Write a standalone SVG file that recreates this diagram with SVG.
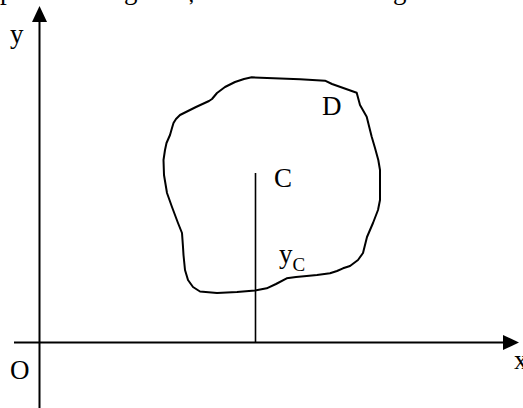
<svg xmlns="http://www.w3.org/2000/svg" width="523" height="408" viewBox="0 0 523 408">
<style>
.t{font-family:"Liberation Serif","Times New Roman",serif;fill:#000;font-size:27px}
.s{font-family:"Liberation Serif","Times New Roman",serif;fill:#000;font-size:19px}
.ax{stroke:#000;stroke-width:2;fill:none}
.ln{stroke:#000;stroke-width:1.6;fill:none}
.bl{stroke:#000;stroke-width:2;fill:none;stroke-linejoin:round;stroke-linecap:round}
</style>
<rect width="523" height="408" fill="#fff"/>
<g id="topline">
<text class="t" x="0" y="-1.5">p</text>
<text class="t" x="124" y="-1.5">g</text>
<text class="t" x="186" y="-1.5">ș</text>
<text class="t" x="393" y="-1.5">g</text>
</g>
<g id="connectors">
<line class="ax" x1="39.5" y1="20" x2="39.5" y2="408"/>
<polygon points="39.5,6 32,22 47,22" fill="#000"/>
<line class="ax" x1="14" y1="342.5" x2="505" y2="342.5"/>
<polygon points="519,342.5 503,335 503,350" fill="#000"/>
<line class="ln" x1="255.5" y1="173" x2="255.5" y2="342.5"/>
</g>
<g id="region-D">
<path class="bl" d="M251.7,77.3 L300,79.3 L325,80.7 L332,84 L356.7,92.7 L360,105 L366.7,116.7 L368.5,124 L371.7,136.7 L375,148 L378.3,160 L380,170 L380,187 L380,200 L378,210 L373,223 L367,237 L363,253 L358,260 L350,266 L343,268.3 L337,271 L330,273.3 L317,275 L306.7,276 L296,277 L286.7,278.3 L276,284 L266.7,288.3 L255,290.5 L237,292 L217,293 L200,291.5 L193,287 L188,280 L185,270 L183.5,255 L183,247 L182,233 L178,223 L172,207 L167,193 L164,175 L163.5,160 L165,150 L166.5,143 L170,135 L172,128 L173.5,123 L176,119 L180,115 L196,107 L209,101 L212,99 L217,93 L225,87 L235,82 L244,79 Z"/>
</g>
<g id="labels">
<text class="t" x="10" y="43">y</text>
<text class="t" x="10" y="379">O</text>
<text class="t" x="514" y="369">x</text>
<text class="t" x="274" y="187">C</text>
<text class="t" x="322" y="115">D</text>
<text class="t" x="279" y="263">y<tspan class="s" dy="8">C</tspan></text>
</g>
</svg>
